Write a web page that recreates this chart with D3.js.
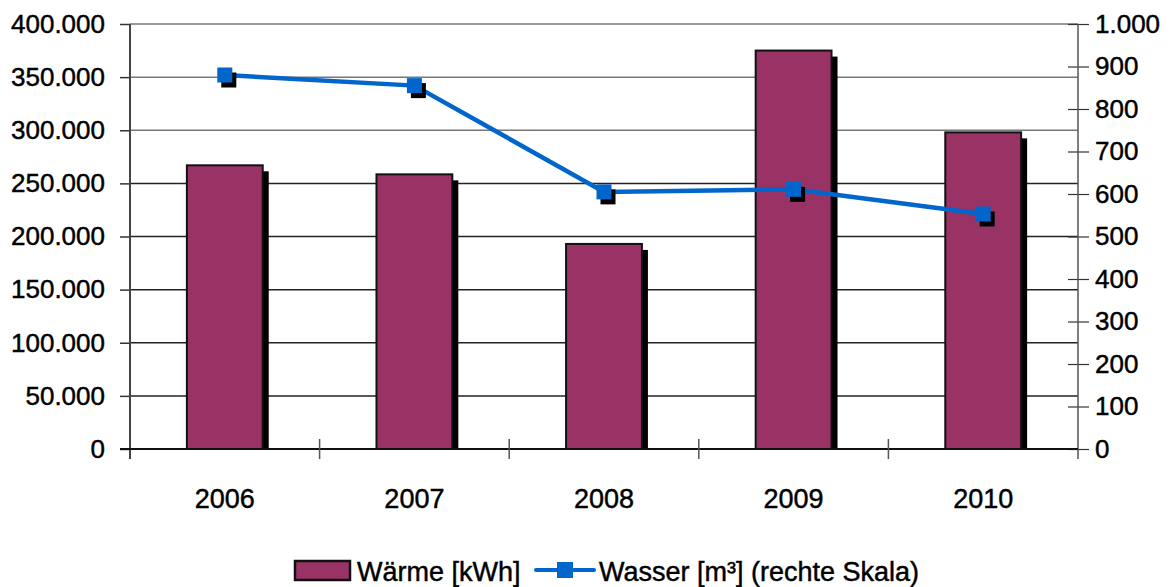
<!DOCTYPE html>
<html>
<head>
<meta charset="utf-8">
<script src="https://cdn.jsdelivr.net/npm/d3@7"></script>
<style>
  html, body { margin: 0; padding: 0; background: #fff; }
  svg { display: block; font-family: "Liberation Sans", Arial, sans-serif; }
  svg text { fill: #000; stroke: #000; stroke-width: 0.45px; }
</style>
</head>
<body>
<svg id="chart" width="1171" height="587"></svg>
<script>
// Jahreswerte
const years = ["2006", "2007", "2008", "2009", "2010"];
const waerme = [267000, 258500, 193000, 375000, 298000];   // kWh, linke Skala
const wasser = [880, 855, 605, 611, 553];                    // m³, rechte Skala
const leftTicks = [0, 50000, 100000, 150000, 200000, 250000, 300000, 350000, 400000];
const rightTicks = [0, 100, 200, 300, 400, 500, 600, 700, 800, 900, 1000];
const legendLabels = ["Wärme [kWh]", "Wasser [m³] (rechte Skala)"];

const barColor = "#993366";
const lineColor = "#0066CC";

const margin = { left: 130, right: 1078, top: 24, bottom: 449 };
const svg = d3.select("#chart");

const fmt = d3.formatLocale({ decimal: ",", thousands: ".", grouping: [3], currency: ["", "€"] }).format(",d");

const x = d3.scaleBand().domain(years).range([margin.left, margin.right])
  .paddingInner(0.6).paddingOuter(0.3);
const yL = d3.scaleLinear().domain([0, 400000]).range([margin.bottom, margin.top]);
const yR = d3.scaleLinear().domain([0, 1000]).range([margin.bottom, margin.top]);

// Gitternetzlinien
svg.append("g").selectAll("line").data(leftTicks.slice(1)).join("line")
  .attr("x1", margin.left).attr("x2", margin.right)
  .attr("y1", d => yL(d)).attr("y2", d => yL(d))
  .attr("stroke", (d, i) => i >= leftTicks.length - 4 ? "#777" : "#222")
  .attr("stroke-width", 1.5);

// Linke Achse
const axL = svg.append("g").attr("transform", `translate(${margin.left},0)`)
  .call(d3.axisLeft(yL).tickValues(leftTicks).tickFormat(fmt).tickSizeInner(10).tickSizeOuter(0).tickPadding(15));
axL.select(".domain").remove();
axL.selectAll(".tick line").attr("stroke", "#333").attr("stroke-width", 1.5);
axL.selectAll("text").attr("font-size", 26);
svg.append("line").attr("x1", margin.left).attr("x2", margin.left)
  .attr("y1", margin.top).attr("y2", margin.bottom + 10)
  .attr("stroke", "#444").attr("stroke-width", 2);

// Rechte Achse
const axR = svg.append("g").attr("transform", `translate(${margin.right},0)`)
  .call(d3.axisRight(yR).tickValues(rightTicks).tickFormat(fmt).tickSizeInner(11).tickSizeOuter(0).tickPadding(6));
axR.select(".domain").remove();
axR.selectAll(".tick line").attr("x1", -10).attr("stroke", "#333").attr("stroke-width", 1.2);
axR.selectAll("text").attr("font-size", 26);
svg.append("line").attr("x1", margin.right).attr("x2", margin.right)
  .attr("y1", margin.top).attr("y2", margin.bottom + 10)
  .attr("stroke", "#555").attr("stroke-width", 1.5);

// Balken mit Schatten
const bars = svg.append("g");
bars.selectAll("rect.shadow").data(years).join("rect").attr("class", "shadow")
  .attr("x", d => x(d) + 6).attr("width", x.bandwidth())
  .attr("y", (d, i) => yL(waerme[i]) + 6)
  .attr("height", (d, i) => margin.bottom - yL(waerme[i]) - 6)
  .attr("fill", "#000");
bars.selectAll("rect.bar").data(years).join("rect").attr("class", "bar")
  .attr("x", d => x(d)).attr("width", x.bandwidth())
  .attr("y", (d, i) => yL(waerme[i]))
  .attr("height", (d, i) => margin.bottom - yL(waerme[i]))
  .attr("fill", barColor).attr("stroke", "#111").attr("stroke-width", 2);

// Kategorienachse
const axX = svg.append("g").attr("transform", `translate(0,${margin.bottom})`);
axX.append("line").attr("x1", margin.left - 10).attr("x2", margin.right)
  .attr("stroke", "#111").attr("stroke-width", 2);
const step = x.step();
const bounds = d3.range(1, years.length).map(i => margin.left + i * step);
axX.selectAll("line.tk").data(bounds).join("line").attr("class", "tk")
  .attr("x1", d => d).attr("x2", d => d).attr("y1", -10).attr("y2", 10)
  .attr("stroke", "#555").attr("stroke-width", 1.5);
axX.selectAll("text").data(years).join("text")
  .attr("x", d => x(d) + x.bandwidth() / 2).attr("y", 59)
  .attr("text-anchor", "middle").attr("font-size", 27).text(d => d);

// Wasserlinie
const cx = (d) => x(d) + x.bandwidth() / 2;
const line = d3.line().x((d, i) => cx(years[i])).y(d => yR(d));
svg.append("path").datum(wasser).attr("d", line)
  .attr("fill", "none").attr("stroke", lineColor).attr("stroke-width", 4.5);
const m = 15;
svg.append("g").selectAll("rect").data(wasser).join("rect")
  .attr("x", (d, i) => cx(years[i]) - m / 2 + 4).attr("y", d => yR(d) - m / 2 + 5)
  .attr("width", m).attr("height", m).attr("fill", "#000");
svg.append("g").selectAll("rect").data(wasser).join("rect")
  .attr("x", (d, i) => cx(years[i]) - m / 2).attr("y", d => yR(d) - m / 2)
  .attr("width", m).attr("height", m).attr("fill", lineColor);

// Legende
const lg = svg.append("g");
lg.append("rect").attr("x", 295).attr("y", 561).attr("width", 55).attr("height", 19)
  .attr("fill", barColor).attr("stroke", "#111").attr("stroke-width", 2.5);
lg.append("text").attr("x", 357).attr("y", 581).attr("font-size", 27).text(legendLabels[0]);
lg.append("line").attr("x1", 536).attr("x2", 594).attr("y1", 570).attr("y2", 570)
  .attr("stroke", lineColor).attr("stroke-width", 4).attr("stroke-linecap", "round");
lg.append("rect").attr("x", 557).attr("y", 562).attr("width", 16).attr("height", 16).attr("fill", lineColor);
lg.append("text").attr("x", 599).attr("y", 581).attr("font-size", 27).text(legendLabels[1]);
</script>
</body>
</html>
